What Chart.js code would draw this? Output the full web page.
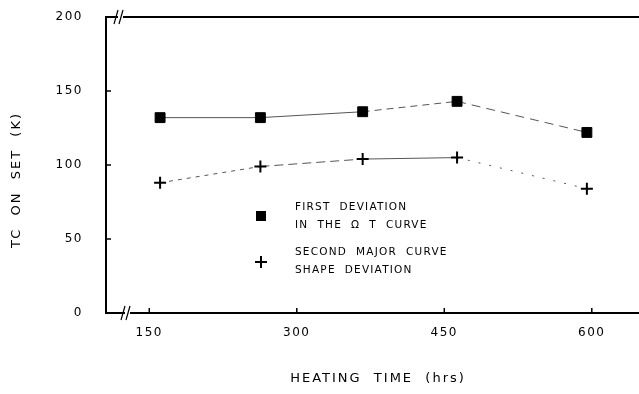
<!DOCTYPE html>
<html>
<head>
<meta charset="utf-8">
<script src="https://cdn.jsdelivr.net/npm/chart.js@4"></script>
<style>
  body { margin: 0; background: #fff; }
  #wrap { width: 639px; height: 394px; }
</style>
</head>
<body>
<div id="wrap"><canvas id="tcChart"></canvas></div>
<script>
const heatingTimes = [161, 263, 367, 463, 595];
const firstDeviation = [132, 132, 136, 143, 122];
const secondDeviation = [88, 99, 104, 105, 84];
const xTicks = [150, 300, 450, 600];
const yTicks = [0, 50, 100, 150, 200];
const legendText = [
  ["FIRST  DEVIATION", "IN  THE  \u03A9  T  CURVE"],
  ["SECOND  MAJOR  CURVE", "SHAPE  DEVIATION"],
];

const ink = "#000";
const font = "DejaVu Sans";
// dashes per segment, the scan shows broken lines between some points
const firstDashes = [[], [], [7, 5], [9, 6]];
const secondDashes = [[4, 5], [9, 5], [], [2, 9]];

function noPadding(scale) {
  scale.paddingTop = 0;
  scale.paddingBottom = 0;
  scale.paddingLeft = 0;
  scale.paddingRight = 0;
}

const extras = {
  id: "extras",
  beforeDraw(chart) {
    chart.ctx.letterSpacing = "1.5px";
  },
  afterDraw(chart) {
    const { ctx, chartArea: a, scales: { x, y } } = chart;
    ctx.save();
    ctx.strokeStyle = ink;
    ctx.fillStyle = ink;

    // top frame line
    ctx.lineWidth = 2;
    ctx.beginPath();
    ctx.moveTo(a.left, a.top);
    ctx.lineTo(a.right, a.top);
    ctx.stroke();

    // inward tick marks
    ctx.lineWidth = 1.5;
    ctx.beginPath();
    yTicks.slice(1, -1).forEach((v) => {
      const py = y.getPixelForValue(v);
      ctx.moveTo(a.left, py);
      ctx.lineTo(a.left + 5, py);
    });
    xTicks.forEach((v) => {
      const px = x.getPixelForValue(v);
      ctx.moveTo(px, a.bottom);
      ctx.lineTo(px, a.bottom - 5);
    });
    ctx.stroke();

    // axis break marks
    ctx.fillStyle = "#fff";
    ctx.fillRect(a.left + 12, a.top - 2, 5, 4);
    ctx.fillRect(a.left + 19, a.bottom - 2, 5, 4);
    ctx.lineWidth = 1.2;
    ctx.beginPath();
    [[a.left + 10, a.top], [a.left + 15, a.top], [a.left + 17, a.bottom], [a.left + 22, a.bottom]].forEach(([bx, by]) => {
      ctx.moveTo(bx - 2, by + 7);
      ctx.lineTo(bx + 2, by - 7);
    });
    ctx.stroke();
    ctx.fillStyle = ink;

    // legend
    const lx = a.left + 155;
    const ly = a.top + 199;
    ctx.fillRect(lx - 5, ly - 5, 10, 10);
    ctx.lineWidth = 2;
    ctx.beginPath();
    ctx.moveTo(lx - 6, ly + 46);
    ctx.lineTo(lx + 6, ly + 46);
    ctx.moveTo(lx, ly + 40);
    ctx.lineTo(lx, ly + 52);
    ctx.stroke();

    ctx.letterSpacing = "1.2px";
    ctx.font = "10.5px '" + font + "'";
    ctx.textAlign = "left";
    ctx.textBaseline = "middle";
    ctx.fillText(legendText[0][0], lx + 34, ly - 9);
    ctx.fillText(legendText[0][1], lx + 34, ly + 9);
    ctx.fillText(legendText[1][0], lx + 34, ly + 36);
    ctx.fillText(legendText[1][1], lx + 34, ly + 54);

    // axis titles
    ctx.letterSpacing = "2px";
    ctx.font = "13px '" + font + "'";
    ctx.textAlign = "center";
    ctx.fillText("HEATING  TIME  (hrs)", 378, 379);
    ctx.translate(17, 180);
    ctx.rotate(-Math.PI / 2);
    ctx.fillText("TC  ON  SET  (K)", 0, 0);
    ctx.restore();
  },
};

new Chart(document.getElementById("tcChart"), {
  type: "scatter",
  plugins: [extras],
  data: {
    datasets: [
      {
        label: "First deviation in the \u03A9 T curve",
        data: heatingTimes.map((t, i) => ({ x: t, y: firstDeviation[i] })),
        showLine: true,
        borderColor: "#555",
        borderWidth: 1,
        pointStyle: "rect",
        pointRadius: 7,
        pointBackgroundColor: ink,
        pointBorderColor: ink,
        pointBorderWidth: 1,
        segment: { borderDash: (c) => firstDashes[c.p0DataIndex] },
      },
      {
        label: "Second major curve shape deviation",
        data: heatingTimes.map((t, i) => ({ x: t, y: secondDeviation[i] })),
        showLine: true,
        borderColor: "#555",
        borderWidth: 1,
        pointStyle: "cross",
        pointRadius: 6,
        pointBorderColor: ink,
        pointBorderWidth: 2,
        segment: { borderDash: (c) => secondDashes[c.p0DataIndex] },
      },
    ],
  },
  options: {
    responsive: true,
    maintainAspectRatio: false,
    animation: false,
    layout: {
      autoPadding: false,
      padding: { top: 17, right: 0, bottom: 0, left: 0 },
    },
    plugins: {
      legend: { display: false },
      tooltip: { enabled: false },
    },
    scales: {
      x: {
        type: "linear",
        min: 106,
        max: 648,
        afterBuildTicks: (scale) => {
          scale.ticks = xTicks.map((v) => ({ value: v }));
        },
        afterFit: (scale) => {
          scale.height = 81;
          noPadding(scale);
        },
        grid: { display: false, drawTicks: false },
        border: { display: true, color: ink, width: 2 },
        ticks: {
          color: ink,
          padding: 13,
          font: { family: font, size: 12 },
        },
      },
      y: {
        min: 0,
        max: 200,
        afterBuildTicks: (scale) => {
          scale.ticks = yTicks.map((v) => ({ value: v }));
        },
        afterFit: (scale) => {
          scale.width = 106;
          noPadding(scale);
        },
        grid: { display: false, drawTicks: false },
        border: { display: true, color: ink, width: 2 },
        ticks: {
          color: ink,
          padding: 23,
          font: { family: font, size: 12 },
        },
      },
    },
  },
});
</script>
</body>
</html>
